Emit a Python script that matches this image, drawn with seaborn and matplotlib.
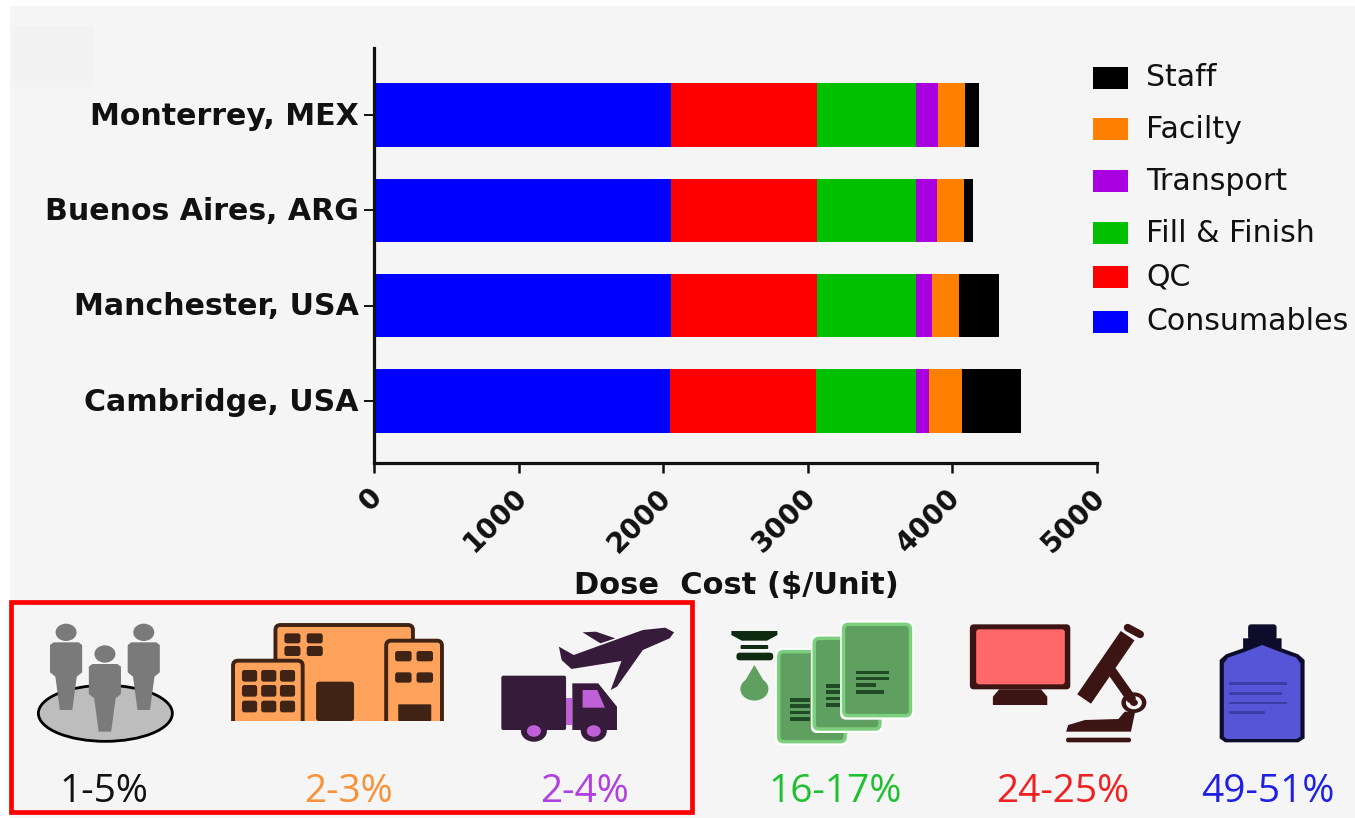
# -*- coding: utf-8 -*-
# Dose cost per site, stacked by cost category, with the icon strip underneath
import numpy as np
import pandas as pd
import matplotlib
matplotlib.use("Agg")
import matplotlib.pyplot as plt
from matplotlib.patches import Rectangle, Ellipse, Polygon, FancyBboxPatch
from matplotlib.transforms import ScaledTranslation
import seaborn as sns

# Data
sites = ['Monterrey, MEX', 'Buenos Aires, ARG', 'Manchester, USA', 'Cambridge, USA']
consumables = [2054, 2054, 2054, 2050]
qc = [1010, 1010, 1010, 1010]
fill_finish = [685, 685, 685, 685]
transport = [152, 145, 111, 90]
facility = [187, 187, 187, 228]
staff = [97, 62, 276, 411]

legend_labels = ['Staff', 'Facilty', 'Transport', 'Fill & Finish', 'QC', 'Consumables']
share_labels = ['1-5%', '2-3%', '2-4%', '16-17%', '24-25%', '49-51%']
x_ticks = [0, 1000, 2000, 3000, 4000, 5000]

# Colours
C_BLACK, C_ORANGE, C_PURPLE = '#000000', '#ff8000', '#a800e0'
C_GREEN, C_RED, C_BLUE = '#00c000', '#ff0000', '#0000ff'
BG = '#f5f5f5'
W, H = 1355, 818

sns.set_theme(style='ticks')
plt.rcParams['font.family'] = ['DejaVu Sans']

fig = plt.figure(figsize=(W / 100, H / 100), dpi=100, facecolor='white')

# Pixel overlay behind everything for the grey panel
bg = fig.add_axes([0, 0, 1, 1], zorder=0)
bg.set_xlim(0, W)
bg.set_ylim(H, 0)
bg.axis('off')
bg.add_patch(Rectangle((10, 6), W - 10, H - 6, fc=BG, ec='none'))
bg.add_patch(Rectangle((14, 26), 80, 61, fc='#f2f2f2', ec='none'))

# Stacked bars: cumulative totals, longest first, each one painted over the last
ax = fig.add_axes([374 / W, 1 - 463 / H, (1097 - 374) / W, (463 - 48) / H], zorder=1)
ax.patch.set_alpha(0)
parts = [consumables, qc, fill_finish, transport, facility, staff]
part_colors = [C_BLUE, C_RED, C_GREEN, C_PURPLE, C_ORANGE, C_BLACK]
totals = np.cumsum(np.array(parts), axis=0)
for i in range(5, -1, -1):
    df = pd.DataFrame({'site': sites, 'cost': totals[i]})
    sns.barplot(data=df, y='site', x='cost', color=part_colors[i], saturation=1,
                width=0.665, ax=ax, errorbar=None, linewidth=0, edgecolor='none')

ax.set_xlim(0, 5000)
ax.set_ylim(3.65, -0.705)
ax.set_ylabel('')
ax.set_xlabel('Dose  Cost ($/Unit)', fontsize=22, fontweight='bold', color='#111111')
ax.xaxis.set_label_coords((736 - 374) / (1097 - 374), -(571 - 463) / (463 - 48), transform=ax.transAxes)
ax.set_xticks(x_ticks)
ax.set_xticklabels(x_ticks, rotation=45, ha='right', va='top', rotation_mode='anchor',
                   fontsize=20, fontweight='bold', color='#111111')
ax.tick_params(axis='x', length=7, width=1.8, pad=9, color='#111111')
ax.tick_params(axis='y', length=7, width=1.4, pad=4, color='#111111')
# rotated labels sit a little left of their ticks
shift = ScaledTranslation(-6 / 100, 2 / 100, fig.dpi_scale_trans)
for lab in ax.get_xticklabels():
    lab.set_transform(lab.get_transform() + shift)
# site names sit slightly above the tick
shift_y = ScaledTranslation(0, 2 / 100, fig.dpi_scale_trans)
for lab in ax.get_yticklabels():
    lab.set_fontsize(21.6)
    lab.set_fontweight('bold')
    lab.set_color('#111111')
    lab.set_transform(lab.get_transform() + shift_y)
sns.despine(ax=ax)
for side in ['left', 'bottom']:
    ax.spines[side].set_linewidth(2.3)
    ax.spines[side].set_color('#111111')

# Pixel overlay for legend and icons
ov = fig.add_axes([0, 0, 1, 1], zorder=2)
ov.set_xlim(0, W)
ov.set_ylim(H, 0)
ov.axis('off')
ov.patch.set_alpha(0)

# Legend
swatch_y = [67, 118, 170, 222, 266, 311]
swatch_c = [C_BLACK, C_ORANGE, C_PURPLE, C_GREEN, C_RED, C_BLUE]
for lab, y0, c in zip(legend_labels, swatch_y, swatch_c):
    ov.add_patch(Rectangle((1093, y0), 35, 22, fc=c, ec='none'))
    ov.text(1146, y0 + 11, lab, fontsize=21.6, va='center', ha='left', color='#111111')


# zoom-crop coordinates -> figure pixels
def z1(x, y):
    return (x / 2.24, y / 3 + 595)


def z2(x, y):
    return (x / 2.39 + 700, y / 3 + 595)


def poly(z, pts, **kw):
    ov.add_patch(Polygon([z(*p) for p in pts], closed=True, **kw))


def rbox(z, x0, y0, x1, y1, r=3, **kw):
    (a, b), (c, d) = z(x0, y0), z(x1, y1)
    ov.add_patch(FancyBboxPatch((a + r, b + r), c - a - 2 * r, d - b - 2 * r,
                                boxstyle='round,pad=%g,rounding_size=%g' % (r, r), **kw))


def dot(z, x, y, r, **kw):
    # icons in the picture are stretched sideways, so circles come out wider than tall
    ov.add_patch(Ellipse(z(x, y), 2 * r, 1.65 * r, **kw))


# People on a disc
cx, cy = z1(236, 355)
ov.add_patch(Ellipse((cx, cy), 134, 56, fc='#bdbdbd', ec='black', lw=2))
for px, dy in [(148, 0), (322, 0), (235, 65)]:
    dot(z1, px, 112 + dy, 10.5, fc='#7a7a7a', ec='none')
    poly(z1, [(px - 28, 142 + dy), (px + 28, 142 + dy), (px + 36, 150 + dy), (px + 36, 232 + dy),
              (px + 24, 245 + dy), (px + 14, 345 + dy), (px - 14, 345 + dy), (px - 24, 245 + dy),
              (px - 36, 232 + dy), (px - 36, 150 + dy)], fc='#7a7a7a', ec='none')

# Buildings
B_FILL, B_DARK = '#ffa35c', '#3f2415'
for x0, y0, x1 in [(617, 90, 925), (865, 137, 990), (522, 197, 678)]:
    a, b = z1(x0, y0)
    c, d = z1(x1, 375)
    ov.add_patch(FancyBboxPatch((a + 5, b + 5), c - a - 10, d - b - 5,
                                boxstyle='round,pad=5,rounding_size=5', fc=B_FILL, ec=B_DARK, lw=2.8))
ov.add_patch(Rectangle((225, 720.5), 225, 12, fc=BG, ec='none'))
for xs, ys, w, h in [((637, 687), (115, 153), 36, 30), ((885, 933), (168, 232), 37, 31),
                     ((542, 585, 627), (225, 270, 317), 34, 35)]:
    for x in xs:
        for y in ys:
            rbox(z1, x, y, x + w, y + h, r=2.5, fc=B_DARK, ec='none')
rbox(z1, 708, 260, 793, 378, r=3, fc=B_DARK, ec='none')
rbox(z1, 892, 328, 966, 378, r=1, fc=B_DARK, ec='none')

# Truck and plane
T_DARK, T_LIGHT = '#361b3a', '#c060d8'
rbox(z1, 1123, 242, 1268, 405, r=2, fc=T_DARK, ec='none')
poly(z1, [(1268, 308), (1282, 308), (1282, 390), (1268, 390)], fc=T_LIGHT, ec='none')
poly(z1, [(1282, 265), (1340, 265), (1382, 335), (1382, 405), (1282, 405)], fc=T_DARK, ec='none')
poly(z1, [(1305, 285), (1338, 285), (1355, 338), (1305, 338)], fc=T_LIGHT, ec='none')
for wx in (1196, 1330):
    dot(z1, wx, 408, 13, fc=T_DARK, ec='none')
    dot(z1, wx, 408, 7, fc=T_LIGHT, ec='none')
poly(z1, [(1510, 112), (1490, 98), (1440, 105), (1285, 180), (1252, 155), (1258, 195), (1280, 222),
          (1392, 198), (1368, 285), (1382, 275), (1440, 165), (1500, 130)], fc=T_DARK, ec='none')
poly(z1, [(1305, 112), (1335, 110), (1378, 130), (1345, 145)], fc=T_DARK, ec='none')

# Fill & finish: dropper and bags
G_FILL, G_EDGE, G_DARK = '#5f9f5f', '#7ccf7c', '#1f4a24'
poly(z2, [(75, 108), (185, 108), (185, 120), (160, 137), (100, 137), (75, 120)], fc='#0e2a10', ec='none')
rbox(z2, 97, 150, 163, 162, r=1, fc='#0e2a10', ec='none')
rbox(z2, 87, 173, 175, 196, r=3.5, fc='#0e2a10', ec='none')
dot(z2, 130, 282, 14, fc=G_FILL, ec='none')
poly(z2, [(130, 210), (98, 278), (162, 278)], fc=G_FILL, ec='none')
for x0, y0, x1, y1 in [(188, 170, 347, 440), (273, 130, 430, 402), (343, 88, 503, 362)]:
    rbox(z2, x0 - 8, y0 - 12, x1 + 8, y1 + 12, r=6, fc='white', ec='none')
    rbox(z2, x0, y0, x1, y1, r=5, fc=G_FILL, ec=G_EDGE, lw=2.5)
for xs, ys in [((215, 262), (315, 333, 352, 372)), ((300, 335), (272, 290, 310, 330))]:
    for y in ys:
        ov.add_patch(Rectangle(z2(xs[0], y - 5), (xs[1] - xs[0]) / 2.39, 3.5, fc=G_DARK, ec='none'))
for x1, y in [(452, 232), (452, 250), (420, 270), (440, 291)]:
    ov.add_patch(Rectangle(z2(372, y - 5), (x1 - 372) / 2.39, 3.5, fc=G_DARK, ec='none'))

# QC: monitor and microscope
Q_DARK = '#3c1414'
rbox(z2, 645, 88, 885, 283, r=4, fc=Q_DARK, ec='none')
rbox(z2, 660, 103, 872, 268, r=3, fc='#ff6868', ec='none')
poly(z2, [(715, 283), (815, 283), (830, 305), (830, 330), (700, 330), (700, 305)], fc=Q_DARK, ec='none')
ov.plot(*zip(z2(1022, 122), z2(918, 312)), color=Q_DARK, lw=12, solid_capstyle='butt')
ov.plot(*zip(z2(1022, 98), z2(1052, 118)), color=Q_DARK, lw=5.5)
ov.plot(*zip(z2(985, 230), z2(1030, 310)), color=Q_DARK, lw=7)
dot(z2, 1037, 323, 12.5, fc=Q_DARK, ec='none')
dot(z2, 1037, 323, 8, fc=BG, ec='none')
dot(z2, 1037, 323, 4, fc=Q_DARK, ec='none')
poly(z2, [(875, 410), (880, 390), (920, 375), (1000, 372), (1015, 350), (1040, 350), (1030, 410)],
     fc=Q_DARK, ec='none')
rbox(z2, 875, 428, 1030, 442, r=2, fc=Q_DARK, ec='none')

# Consumables: bottle
rbox(z2, 1310, 88, 1378, 135, r=3, fc='#0d0d2b', ec='none')
poly(z2, [(1298, 130), (1390, 130), (1390, 160), (1430, 178), (1445, 195), (1445, 430), (1430, 442), (1255, 442),
          (1242, 430), (1242, 195), (1257, 178), (1298, 160)], fc='#0d0d2b', ec='none')
poly(z2, [(1344, 150), (1385, 170), (1425, 188), (1435, 205), (1435, 425), (1425, 432), (1260, 432), (1252, 425),
          (1252, 205), (1262, 188), (1303, 170)], fc='#5555d8', ec='none')
for x1, y in [(1403, 265), (1390, 295), (1403, 323), (1350, 352)]:
    ov.add_patch(Rectangle(z2(1265, y - 3), (x1 - 1265) / 2.39, 2.5, fc='#3d3da8', ec='none'))

# Percent labels under the icons
share_x = [104, 348, 585, 835, 1063, 1268]
share_c = ['#111111', '#f7923a', '#b040e0', '#20c030', '#ee2222', '#2020e0']
for lab, x, c in zip(share_labels, share_x, share_c):
    ov.text(x, 792, lab, fontsize=28, ha='center', va='center', color=c, family=['Open Sans', 'DejaVu Sans'])

# Red box round the first three icons
ov.add_patch(Rectangle((11, 602), 681, 210, fc='none', ec='#ff0000', lw=3.4))

fig.savefig('out.png', dpi=100, facecolor=fig.get_facecolor())
